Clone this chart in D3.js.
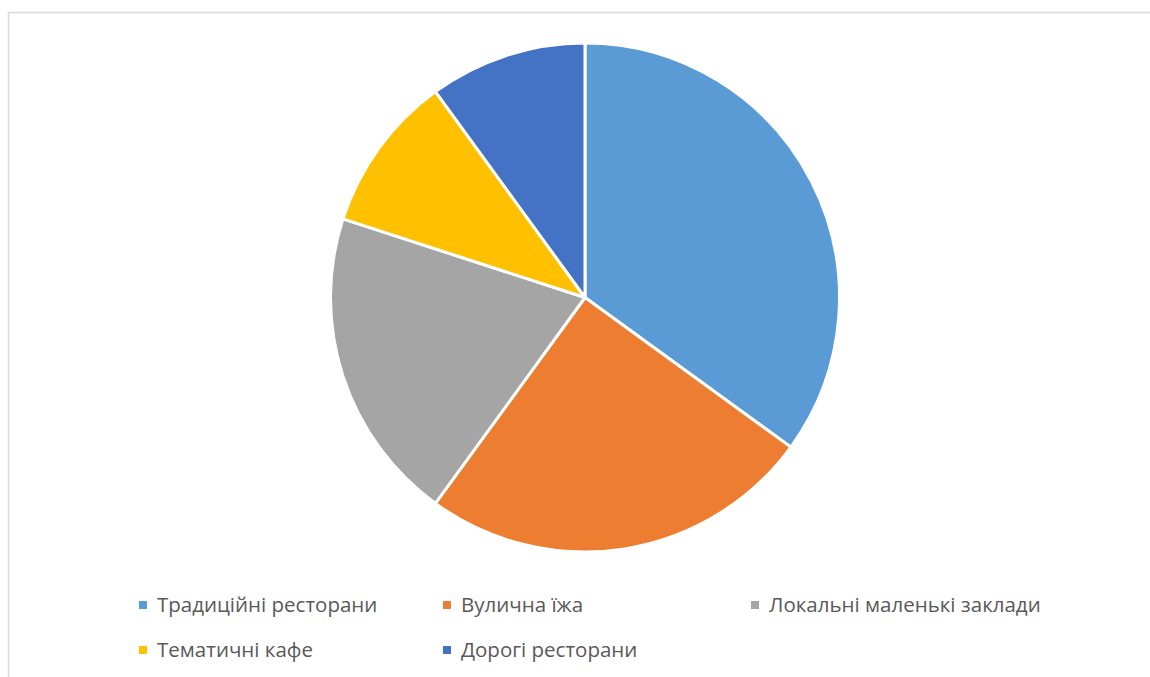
<!DOCTYPE html>
<html>
<head>
<meta charset="utf-8">
<title>Pie chart</title>
<script src="https://d3js.org/d3.v7.min.js"></script>
<style>
  body { margin: 0; background: #fff; }
  text { font-family: "Open Sans", "Noto Sans", sans-serif; }
</style>
</head>
<body>
<div id="chart"></div>
<script>
// Data (percent shares)
const categories = ["Традиційні ресторани", "Вулична їжа", "Локальні маленькі заклади", "Тематичні кафе", "Дорогі ресторани"];
const values = [35, 25, 20, 10, 10];
const colors = ["#5B9BD5", "#ED7D31", "#A5A5A5", "#FFC000", "#4472C4"];

const width = 1150, height = 677;
const cx = 585, cy = 297.5, radius = 254.5;

const svg = d3.select("#chart")
  .append("svg")
  .attr("width", width)
  .attr("height", height);

// chart area border (only top and left visible in the crop)
svg.append("rect")
  .attr("x", 8.5).attr("y", 12.5)
  .attr("width", width).attr("height", height)
  .attr("fill", "#fff")
  .attr("stroke", "#d9d9d9")
  .attr("stroke-width", 1.5);

const data = categories.map((c, i) => ({ name: c, value: values[i], color: colors[i] }));

const pie = d3.pie()
  .value(d => d.value)
  .sort(null);

const arc = d3.arc()
  .innerRadius(0)
  .outerRadius(radius);

const g = svg.append("g")
  .attr("transform", `translate(${cx},${cy})`);

g.selectAll("path")
  .data(pie(data))
  .enter()
  .append("path")
  .attr("d", arc)
  .attr("fill", d => d.data.color)
  .attr("stroke", "#fff")
  .attr("stroke-width", 3)
  .attr("stroke-linejoin", "round");

// Legend: 3 columns, 2 rows
const legendX = [139, 443, 751];
const legendY = [605, 650];

const items = svg.selectAll(".legend")
  .data(data)
  .enter()
  .append("g")
  .attr("class", "legend")
  .attr("transform", (d, i) => `translate(${legendX[i % 3]},${legendY[Math.floor(i / 3)]})`);

items.append("rect")
  .attr("x", 0).attr("y", -4)
  .attr("width", 8).attr("height", 8)
  .attr("fill", d => d.color);

items.append("text")
  .attr("x", 18)
  .attr("y", 7)
  .attr("font-size", 20.5)
  .attr("fill", "#595959")
  .text(d => d.name);
</script>
</body>
</html>
